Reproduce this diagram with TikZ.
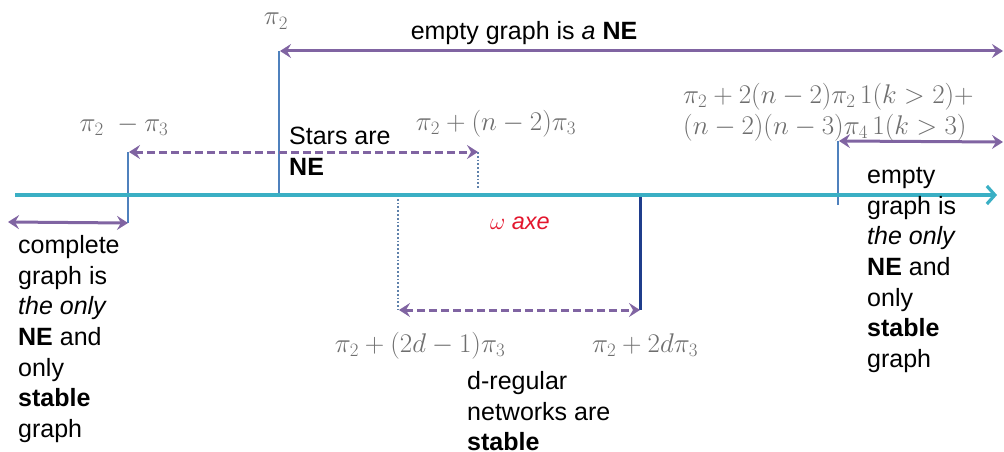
\RequirePackage{fix-cm}
\documentclass[tikz,border=0pt]{standalone}
\usepackage[no-math]{fontspec}
\setmainfont{Liberation Sans}
\usetikzlibrary{arrows.meta}
\definecolor{plum}{HTML}{8064A2}
\definecolor{steel}{HTML}{4F81BD}
\definecolor{aqua}{HTML}{3AAFC4}
\definecolor{navy}{HTML}{1F3D8C}
\definecolor{scarlet}{HTML}{E3162D}
\definecolor{slate}{HTML}{6E6E6E}
\newcommand{\bigtxt}{\fontsize{25}{30.7}\selectfont}
\newcommand{\mathtxt}{\fontsize{27}{30}\selectfont}

\begin{document}
\begin{tikzpicture}[x=1pt,y=-1pt,
  span/.style={plum,line width=3pt,{Stealth[length=11pt,width=14pt,inset=4pt]}-{Stealth[length=11pt,width=14pt,inset=4pt]}},
  tick/.style={steel,line width=2.5pt},
  lbl/.style={text=slate,font=\mathtxt,inner sep=0pt,anchor=base},
  txt/.style={font=\bigtxt,align=left,inner sep=0pt,anchor=north west}]
  \useasboundingbox (0,0) rectangle (1004,452);
  % ----- ticks on the axis -----
  \coordinate (a1) at (128,152); \coordinate (b1) at (128,223);
  \coordinate (a2) at (279,51);  \coordinate (b2) at (279,196);
  \coordinate (a3) at (478,152); \coordinate (b3) at (478,188);
  \coordinate (a4) at (398,195); \coordinate (b4) at (398,310);
  \coordinate (a5) at (640,197); \coordinate (b5) at (640,310);
  \coordinate (a6) at (838,141); \coordinate (b6) at (838,205);
  \draw[tick] (a1) -- (b1);
  \draw[tick] (a2) -- (b2);
  \draw[steel!70!gray,line width=1.8pt,dotted] (a3) -- (b3);
  \draw[steel!70!gray,line width=1.8pt,dotted] (a4) -- (b4);
  \draw[navy,line width=3pt] (a5) -- (b5);
  \draw[tick] (a6) -- (b6);
  % ----- omega axis -----
  \coordinate (ax0) at (15,195);
  \coordinate (ax1) at (997,195);
  \draw[aqua,line width=3.2pt,-{Straight Barb[length=8pt,width=18pt]}] (ax0) -- (ax1);
  \node[text=scarlet,font=\fontsize{23.5}{28}\selectfont\itshape,anchor=base] (axe) at (520,229) {$\omega$ axe};
  % ----- ranges -----
  \coordinate (top1) at (1003,51);
  \coordinate (rt1) at (1003,142);
  \coordinate (lf0) at (8,222);
  \draw[span] (a2) ++(1,0) coordinate (top0) -- (top1);
  \draw[span,dash pattern=on 8pt off 4pt] (a1) ++(1,0) coordinate (st0) -- (a3);
  \draw[span] (a6) ++(1,0) coordinate (rt0) -- (rt1);
  \draw[span] (lf0) -- (b1);
  \draw[span,dash pattern=on 8pt off 4pt] (b4) ++(1,0) coordinate (dr0) -- (b5);
  % ----- values -----
  \node[lbl] (p2) at (276,25) {$\pi_2$};
  \node[lbl] (p2m) at (124,131) {$\pi_2\ -\pi_3$};
  \node[lbl] (p2n) at (496,130) {$\pi_2+(n-2)\pi_3$};
  \node[lbl,anchor=base west,align=left] (pk) at (683,134) {$\pi_2+2(n-2)\pi_2\,1(k>2)+$\\[1pt]$(n-2)(n-3)\pi_4\,1(k>3)$};
  \node[lbl] (p2d) at (420,352) {$\pi_2+(2d-1)\pi_3$};
  \node[lbl] (p2dd) at (645,352) {$\pi_2+2d\pi_3$};
  % ----- texts -----
  \node[font=\bigtxt,anchor=base] (ne) at (524,40) {empty graph is \textit{a} \textbf{NE}};
  \node[txt] (stars) at (289,127) {Stars are\\\textbf{NE}};
  \node[txt] (cmp) at (18,235) {complete\\graph is\\\textit{the only}\\\textbf{NE} and\\only\\\textbf{stable}\\graph};
  \node[txt] (emp) at (867,167) {empty\\graph is\\\textit{the only}\\\textbf{NE} and\\only\\\textbf{stable}\\graph};
  \node[txt] (dreg) at (467,371) {d-regular\\networks are\\\textbf{stable}};
\end{tikzpicture}
\end{document}
